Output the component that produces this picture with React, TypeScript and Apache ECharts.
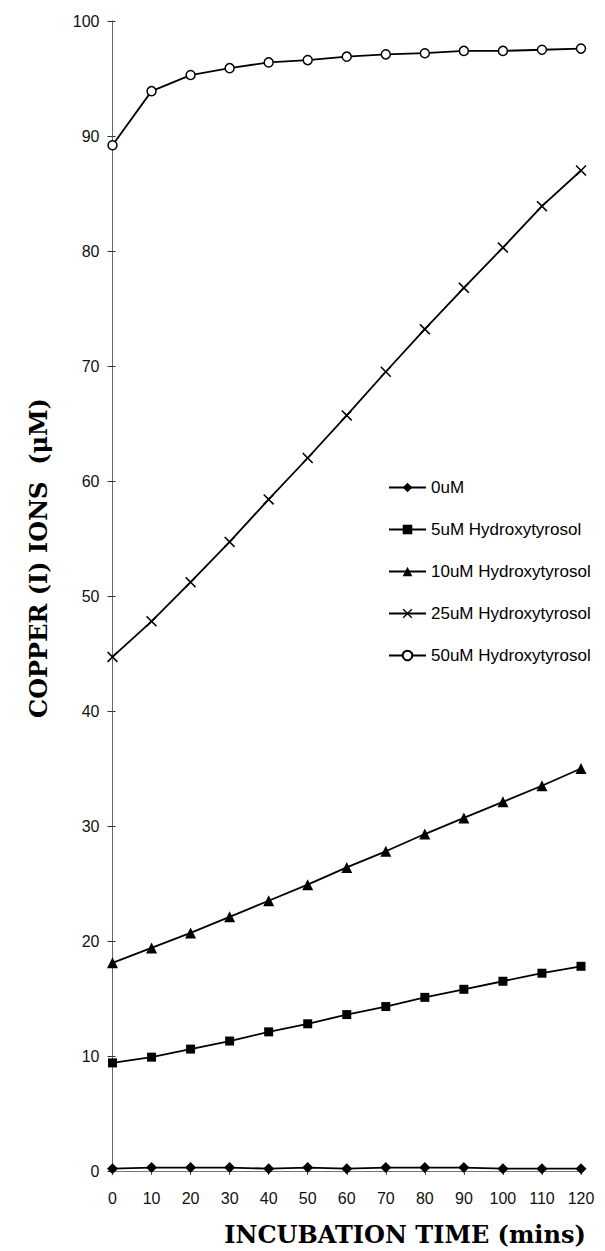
import React, { useEffect, useRef } from "react";
import * as echarts from "echarts";

const times = [0, 10, 20, 30, 40, 50, 60, 70, 80, 90, 100, 110, 120];
const seriesNames = ["0uM", "5uM Hydroxytyrosol", "10uM Hydroxytyrosol", "25uM Hydroxytyrosol", "50uM Hydroxytyrosol"];
const values0 = [0.2, 0.3, 0.3, 0.3, 0.2, 0.3, 0.2, 0.3, 0.3, 0.3, 0.2, 0.2, 0.2];
const values5 = [9.4, 9.9, 10.6, 11.3, 12.1, 12.8, 13.6, 14.3, 15.1, 15.8, 16.5, 17.2, 17.8];
const values10 = [18.1, 19.4, 20.7, 22.1, 23.5, 24.9, 26.4, 27.8, 29.3, 30.7, 32.1, 33.5, 35.0];
const values25 = [44.7, 47.8, 51.2, 54.7, 58.4, 62.0, 65.7, 69.5, 73.2, 76.8, 80.3, 83.9, 87.0];
const values50 = [89.2, 93.9, 95.3, 95.9, 96.4, 96.6, 96.9, 97.1, 97.2, 97.4, 97.4, 97.5, 97.6];
const xTitle = "INCUBATION TIME (mins)";
const yTitle = "COPPER (I) IONS  (\u03bcM)";

const SANS = "'Liberation Sans', Arial, sans-serif";
const SERIF = "'DejaVu Serif', 'Liberation Serif', serif";
const X_PATH = "path://M0,1 L1,0 L5,4 L9,0 L10,1 L6,5 L10,9 L9,10 L5,6 L1,10 L0,9 L4,5 Z";

const pairs = (vals: number[]) => times.map((t, i) => [t, vals[i]]);

export default function App() {
  const ref = useRef<HTMLDivElement>(null);
  useEffect(() => {
    if (!ref.current) return;
    const chart = echarts.init(ref.current, null, { renderer: "svg" });
    const lineStyle = { color: "#000", width: 1.8 };
    const mk = (name: string, vals: number[], symbol: string, size: number, itemStyle: any) => ({
      name,
      type: "line",
      data: pairs(vals),
      symbol,
      symbolSize: size,
      lineStyle,
      itemStyle,
      z: 3,
    });
    const titleFont = "bold 24px " + SERIF;
    chart.setOption({
      animation: false,
      backgroundColor: "#fff",
      grid: { left: 112.5, right: 24, top: 21, bottom: 80, containLabel: false },
      legend: {
        orient: "vertical",
        left: 388,
        top: 479,
        padding: 0,
        itemWidth: 37,
        itemHeight: 12,
        itemGap: 25,
        textStyle: { fontSize: 17, fontFamily: SANS, color: "#000" },
        data: seriesNames,
      },
      graphic: [
        {
          type: "text",
          x: 405,
          y: 1234,
          style: { text: xTitle, font: titleFont, fill: "#000", textAlign: "center", textVerticalAlign: "middle" },
        },
        {
          type: "text",
          x: 38,
          y: 558,
          rotation: Math.PI / 2,
          style: { text: yTitle, font: titleFont, fill: "#000", textAlign: "center", textVerticalAlign: "middle" },
        },
      ],
      xAxis: {
        type: "value",
        min: 0,
        max: 120,
        interval: 10,
        axisLine: { show: true, lineStyle: { color: "#777", width: 1 } },
        axisTick: { show: true, length: 4, lineStyle: { color: "#555" } },
        axisLabel: { fontSize: 16, fontFamily: SANS, color: "#111", margin: 19 },
        splitLine: { show: false },
      },
      yAxis: [
        {
          type: "value",
          min: 0,
          max: 100,
          interval: 10,
          axisLine: { show: true, lineStyle: { color: "#666", width: 1 } },
          axisTick: { show: true, length: 5, lineStyle: { color: "#333" } },
          axisLabel: { fontSize: 16, fontFamily: SANS, color: "#111", margin: 13 },
          splitLine: { show: false },
        },
        {
          type: "value",
          position: "left",
          min: 0,
          max: 100,
          interval: 10,
          axisLine: { show: false },
          axisTick: { show: true, inside: true, length: 3, lineStyle: { color: "#333" } },
          axisLabel: { show: false },
          splitLine: { show: false },
        },
      ],
      series: [
        mk(seriesNames[0], values0, "diamond", 11, { color: "#000" }),
        mk(seriesNames[1], values5, "rect", 9, { color: "#000" }),
        mk(seriesNames[2], values10, "triangle", 11, { color: "#000" }),
        mk(seriesNames[3], values25, X_PATH, 11, { color: "#000" }),
        mk(seriesNames[4], values50, "circle", 9, { color: "#fff", borderColor: "#000", borderWidth: 1.5 }),
      ],
    });
    return () => chart.dispose();
  }, []);
  return (
    <div
      ref={ref}
      style={{ position: "fixed", left: 0, top: 0, width: 605, height: 1251, background: "#fff" }}
    />
  );
}
